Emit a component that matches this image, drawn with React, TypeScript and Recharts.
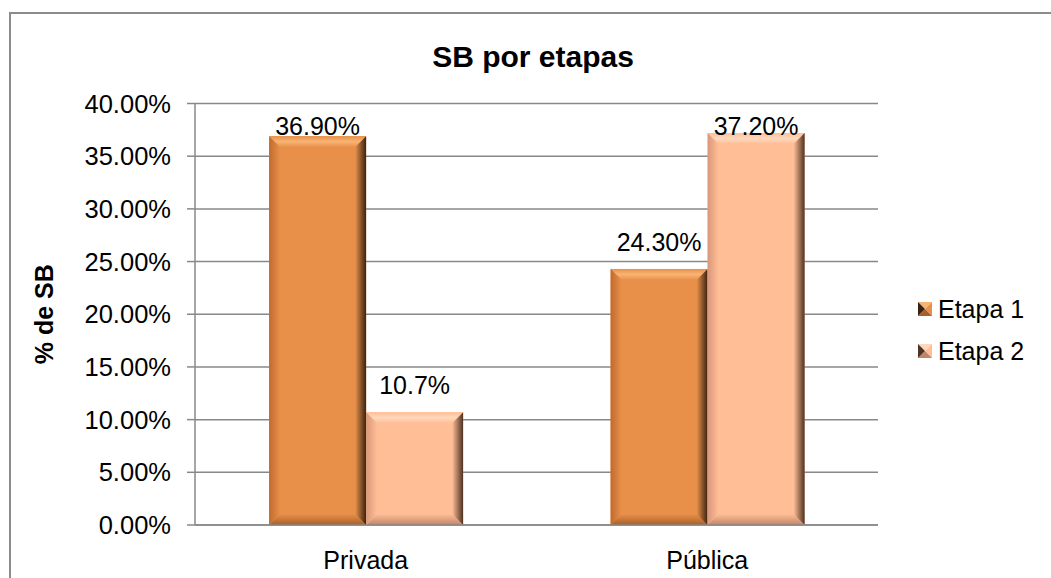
import React from "react";
import { BarChart, Bar, XAxis, YAxis, CartesianGrid, LabelList, Legend } from "recharts";

const categories = ["Privada", "Pública"];
const etapa1 = [36.9, 24.3];
const etapa2 = [10.7, 37.2];
const etapa1Labels = ["36.90%", "24.30%"];
const etapa2Labels = ["10.7%", "37.20%"];
const yTicks = [0, 5, 10, 15, 20, 25, 30, 35, 40];
const seriesNames = ["Etapa 1", "Etapa 2"];

const data = categories.map((c, i) => ({
  cat: c,
  e1: etapa1[i],
  e2: etapa2[i],
  l1: etapa1Labels[i],
  l2: etapa2Labels[i],
}));

const FONT = '"Liberation Sans", Arial, sans-serif';
const PLOT_TOP = 103.5;

const palettes: Record<string, { base: string; light: string; dark: string; left: string; bottom: string; id: string }> = {
  e1: { base: "#E8904A", light: "#F8B474", dark: "#3A2210", left: "#C06A2E", bottom: "#A95F28", id: "g1" },
  e2: { base: "#FFBE96", light: "#FFD8BC", dark: "#4E3222", left: "#D9977A", bottom: "#C08468", id: "g2" },
};

const BevelBar = (key: string) => (props: any) => {
  const { x, y, width: w, height: h } = props;
  if (!w || !h) return null;
  const p = palettes[key];
  const b = Math.min(11, h / 2, w / 2);
  const id = `${p.id}-${Math.round(x)}`;
  return (
    <g>
      <defs>
        <linearGradient id={`${id}-r`} x1="0" y1="0" x2="1" y2="0">
          <stop offset="0" stopColor={p.base} />
          <stop offset="1" stopColor={p.dark} />
        </linearGradient>
        <linearGradient id={`${id}-l`} x1="0" y1="0" x2="1" y2="0">
          <stop offset="0" stopColor={p.left} />
          <stop offset="1" stopColor={p.base} />
        </linearGradient>
        <linearGradient id={`${id}-t`} x1="0" y1="0" x2="0" y2="1">
          <stop offset="0" stopColor={p.base} />
          <stop offset="0.5" stopColor={p.light} />
          <stop offset="1" stopColor={p.base} />
        </linearGradient>
        <linearGradient id={`${id}-b`} x1="0" y1="0" x2="0" y2="1">
          <stop offset="0" stopColor={p.base} />
          <stop offset="1" stopColor={p.bottom} />
        </linearGradient>
      </defs>
      <rect x={x} y={y} width={w} height={h} fill={p.base} />
      <polygon points={`${x},${y} ${x + w},${y} ${x + w - b},${y + b} ${x + b},${y + b}`} fill={`url(#${id}-t)`} />
      <polygon points={`${x},${y + h} ${x + w},${y + h} ${x + w - b},${y + h - b} ${x + b},${y + h - b}`} fill={`url(#${id}-b)`} />
      <polygon points={`${x},${y} ${x + b},${y + b} ${x + b},${y + h - b} ${x},${y + h}`} fill={`url(#${id}-l)`} />
      <polygon points={`${x + w},${y} ${x + w - b},${y + b} ${x + w - b},${y + h - b} ${x + w},${y + h}`} fill={`url(#${id}-r)`} />
    </g>
  );
};

const makeLabel = (labels: string[]) => (props: any) => {
  const { x, y, width, index } = props;
  const baseline = Math.max(y - 18, PLOT_TOP + 31);
  return (
    <text x={x + width / 2} y={baseline} textAnchor="middle" fontFamily={FONT} fontSize={25} fill="#000">
      {labels[index]}
    </text>
  );
};

const Marker = ({ k }: { k: string }) => {
  const p = palettes[k];
  const s = 14;
  const c = s / 2;
  return (
    <svg width={s} height={s} style={{ display: "block" }}>
      <polygon points={`0,0 ${s},0 ${c},${c}`} fill={p.light} />
      <polygon points={`${s},0 ${s},${s} ${c},${c}`} fill={p.base} />
      <polygon points={`0,${s} ${s},${s} ${c},${c}`} fill={p.bottom} />
      <polygon points={`0,0 0,${s} ${c},${c}`} fill={p.dark} />
    </svg>
  );
};

const LegendContent = () => (
  <div style={{ fontFamily: FONT, fontSize: 25, color: "#000" }}>
    {["e1", "e2"].map((k, i) => (
      <div key={k} style={{ display: "flex", alignItems: "center", height: 42 }}>
        <Marker k={k} />
        <span style={{ marginLeft: 6 }}>{seriesNames[i]}</span>
      </div>
    ))}
  </div>
);

export default function App() {
  return (
    <div style={{ position: "absolute", left: 0, top: 0, width: 1051, height: 578, overflow: "hidden", background: "#fff" }}>
      <div
        style={{
          position: "absolute",
          left: 9,
          top: 12,
          width: 1100,
          height: 700,
          border: "2px solid #8c8c8c",
          boxSizing: "border-box",
        }}
      />
      <div
        style={{
          position: "absolute",
          left: 0,
          top: 40,
          width: 1066,
          textAlign: "center",
          fontFamily: FONT,
          fontWeight: "bold",
          fontSize: 30,
          color: "#000",
          lineHeight: "34px",
        }}
      >
        SB por etapas
      </div>
      <div style={{ position: "absolute", left: 0, top: 0 }}>
        <BarChart
          width={1051}
          height={578}
          data={data}
          margin={{ top: PLOT_TOP, right: 43, bottom: 23, left: 95 }}
          barGap={0}
          barCategoryGap="21.7%"
        >
          <CartesianGrid vertical={false} stroke="#888" strokeWidth={1.5} />
          <XAxis
            dataKey="cat"
            height={30}
            tickLine={false}
            axisLine={{ stroke: "#888", strokeWidth: 1.5 }}
            tick={{ fontFamily: FONT, fontSize: 25, fill: "#000" }}
            tickMargin={20}
            interval={0}
          />
          <YAxis
            width={100}
            domain={[0, 40]}
            ticks={yTicks}
            allowDataOverflow
            tickFormatter={(v: number) => `${v.toFixed(2)}%`}
            tick={{ fontFamily: FONT, fontSize: 25.5, fill: "#000" }}
            tickLine={{ stroke: "#888", strokeWidth: 1.5 }}
            tickSize={8}
            tickMargin={16}
            axisLine={{ stroke: "#888", strokeWidth: 1.5 }}
            label={{
              value: "% de SB",
              angle: -90,
              position: "insideLeft",
              dx: -56,
              fontFamily: FONT,
              fontSize: 25,
              fontWeight: "bold",
              fill: "#000",
              style: { textAnchor: "middle" },
            }}
          />
          <Legend
            layout="vertical"
            align="right"
            verticalAlign="middle"
            content={<LegendContent />}
            wrapperStyle={{ left: 918, right: "auto", top: 288, width: 130 }}
          />
          <Bar dataKey="e1" name={seriesNames[0]} fill={palettes.e1.base} shape={BevelBar("e1")} isAnimationActive={false}>
            <LabelList dataKey="e1" content={makeLabel(etapa1Labels)} />
          </Bar>
          <Bar dataKey="e2" name={seriesNames[1]} fill={palettes.e2.base} shape={BevelBar("e2")} isAnimationActive={false}>
            <LabelList dataKey="e2" content={makeLabel(etapa2Labels)} />
          </Bar>
        </BarChart>
      </div>
    </div>
  );
}
